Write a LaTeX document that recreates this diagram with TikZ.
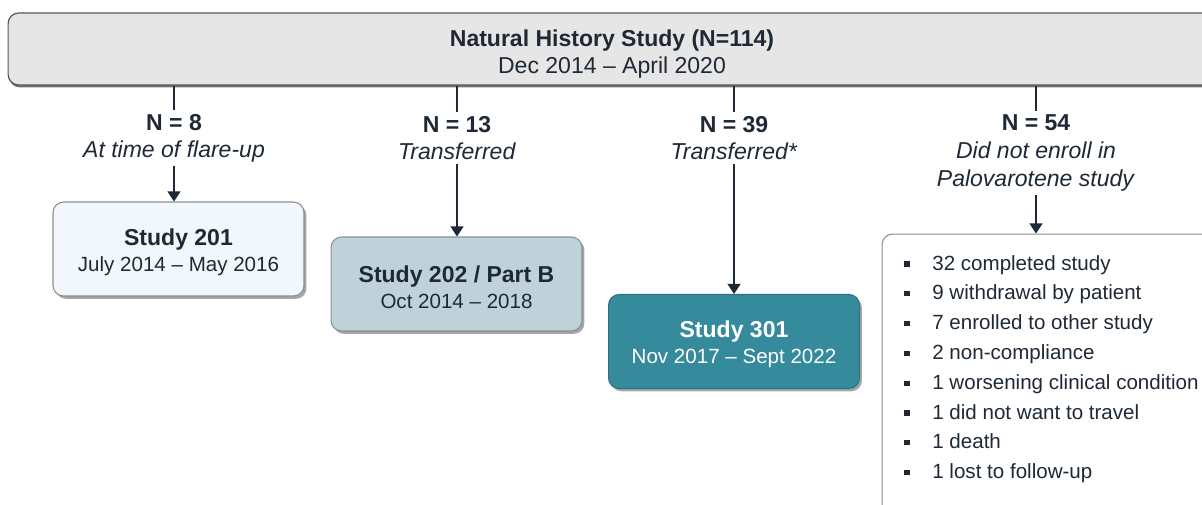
\documentclass[tikz,border=0pt]{standalone}
\usepackage{fontspec}
\setmainfont{Liberation Sans}
\usetikzlibrary{arrows.meta,shadows}
\definecolor{ink}{HTML}{1E2935}
\definecolor{topfill}{HTML}{E6E6E6}
\definecolor{pale}{HTML}{F1F7FA}
\definecolor{mist}{HTML}{BFD1D9}
\definecolor{teal}{HTML}{358A9C}
\definecolor{tealedge}{HTML}{2B7383}
\definecolor{edge}{HTML}{8A8F94}
\newcommand{\boxtitle}[1]{\rule{0pt}{13.2pt}\textbf{\fontsize{13.1}{14.8}\selectfont #1}}
\tikzset{
  big/.style={font=\fontsize{13.1}{15.4}\selectfont},
  small/.style={font=\fontsize{11.7}{14.8}\selectfont},
  studybox/.style={draw=edge, line width=0.6pt, rounded corners=6pt, align=center,
    text=ink, small, minimum width=5.02cm, minimum height=1.88cm,
    drop shadow={shadow xshift=1.4pt, shadow yshift=-1.6pt, fill=black, opacity=0.35}},
  branch/.style={align=center, text=ink, big, inner xsep=0pt, inner ysep=2pt},
  link/.style={draw=ink, line width=0.9pt},
  flow/.style={link, -{Triangle[width=7.4pt,length=5.8pt]}},
  item/.style={anchor=base west, text=ink, small, inner sep=0pt},
  dot/.style={fill=ink, minimum size=2.9pt, inner sep=0pt},
}
\begin{document}
\begin{tikzpicture}[x=0.02cm, y=-0.02cm]
  \clip (0,0) rectangle (1202,504);
  \fill[white] (0,0) rectangle (1202,504);

  % header box (runs past the right edge)
  \node[draw=gray!70!black, line width=0.7pt, fill=topfill, rounded corners=6pt,
        minimum width=24.64cm, minimum height=1.44cm,
        drop shadow={shadow xshift=0.6pt, shadow yshift=-1.4pt, fill=black, opacity=0.55}]
        (top) at (624,49) {};
  \node[big, text=ink, align=center] (title) at (612,54)
        {\textbf{Natural History Study (N=114)}\\Dec 2014 – April 2020};

  % branch labels
  \node[branch] (l1) at (174,138) {\textbf{N = 8}\\\textit{At time of flare-up}};
  \node[branch] (l2) at (457,138) {\textbf{N = 13}\\\textit{Transferred}};
  \node[branch] (l3) at (734,138) {\textbf{N = 39}\\\textit{Transferred*}};
  \node[branch, font=\fontsize{13.1}{15.7}\selectfont] (l4) at (1036,153)
        {\textbf{N = 54}\\\textit{Did not enroll in}\\\textit{Palovarotene study}};

  % study boxes
  \node[studybox, fill=pale] (s1) at (178.5,249)
        {\boxtitle{Study 201}\\July 2014 – May 2016};
  \node[studybox, fill=mist] (s2) at (456.5,284)
        {\boxtitle{Study 202 / Part B}\\Oct 2014 – 2018};
  \node[studybox, fill=teal, draw=tealedge, text=white] (s3) at (734,341.5)
        {\boxtitle{Study 301}\\Nov 2017 – Sept 2022};

  % reasons for not enrolling (runs past the right and bottom edges)
  \node[draw=edge, line width=0.6pt, fill=white, rounded corners=6pt,
        minimum width=7.16cm, minimum height=6.12cm] (list) at (1061,387) {};
  \foreach \txt [count=\i] in {32 completed study, 9 withdrawal by patient,
      7 enrolled to other study, 2 non-compliance, 1 worsening clinical condition,
      1 did not want to travel, 1 death, 1 lost to follow-up} {
    \node[item] (r\i) at (932,{270+29.8*(\i-1)}) {\txt};
    \node[dot] (b\i) at (907,{264+29.8*(\i-1)}) {};
  }

  % connectors
  \foreach \k in {1,2,3,4} \draw[link] (top.south -| l\k) -- (l\k.north);
  \draw[flow] (l1.south) -- (l1.south |- s1.north);
  \draw[flow] (l2.south) -- (l2.south |- s2.north);
  \draw[flow] (l3.south) -- (l3.south |- s3.north);
  \draw[flow] (l4.south) -- (l4.south |- list.north);
\end{tikzpicture}
\end{document}
